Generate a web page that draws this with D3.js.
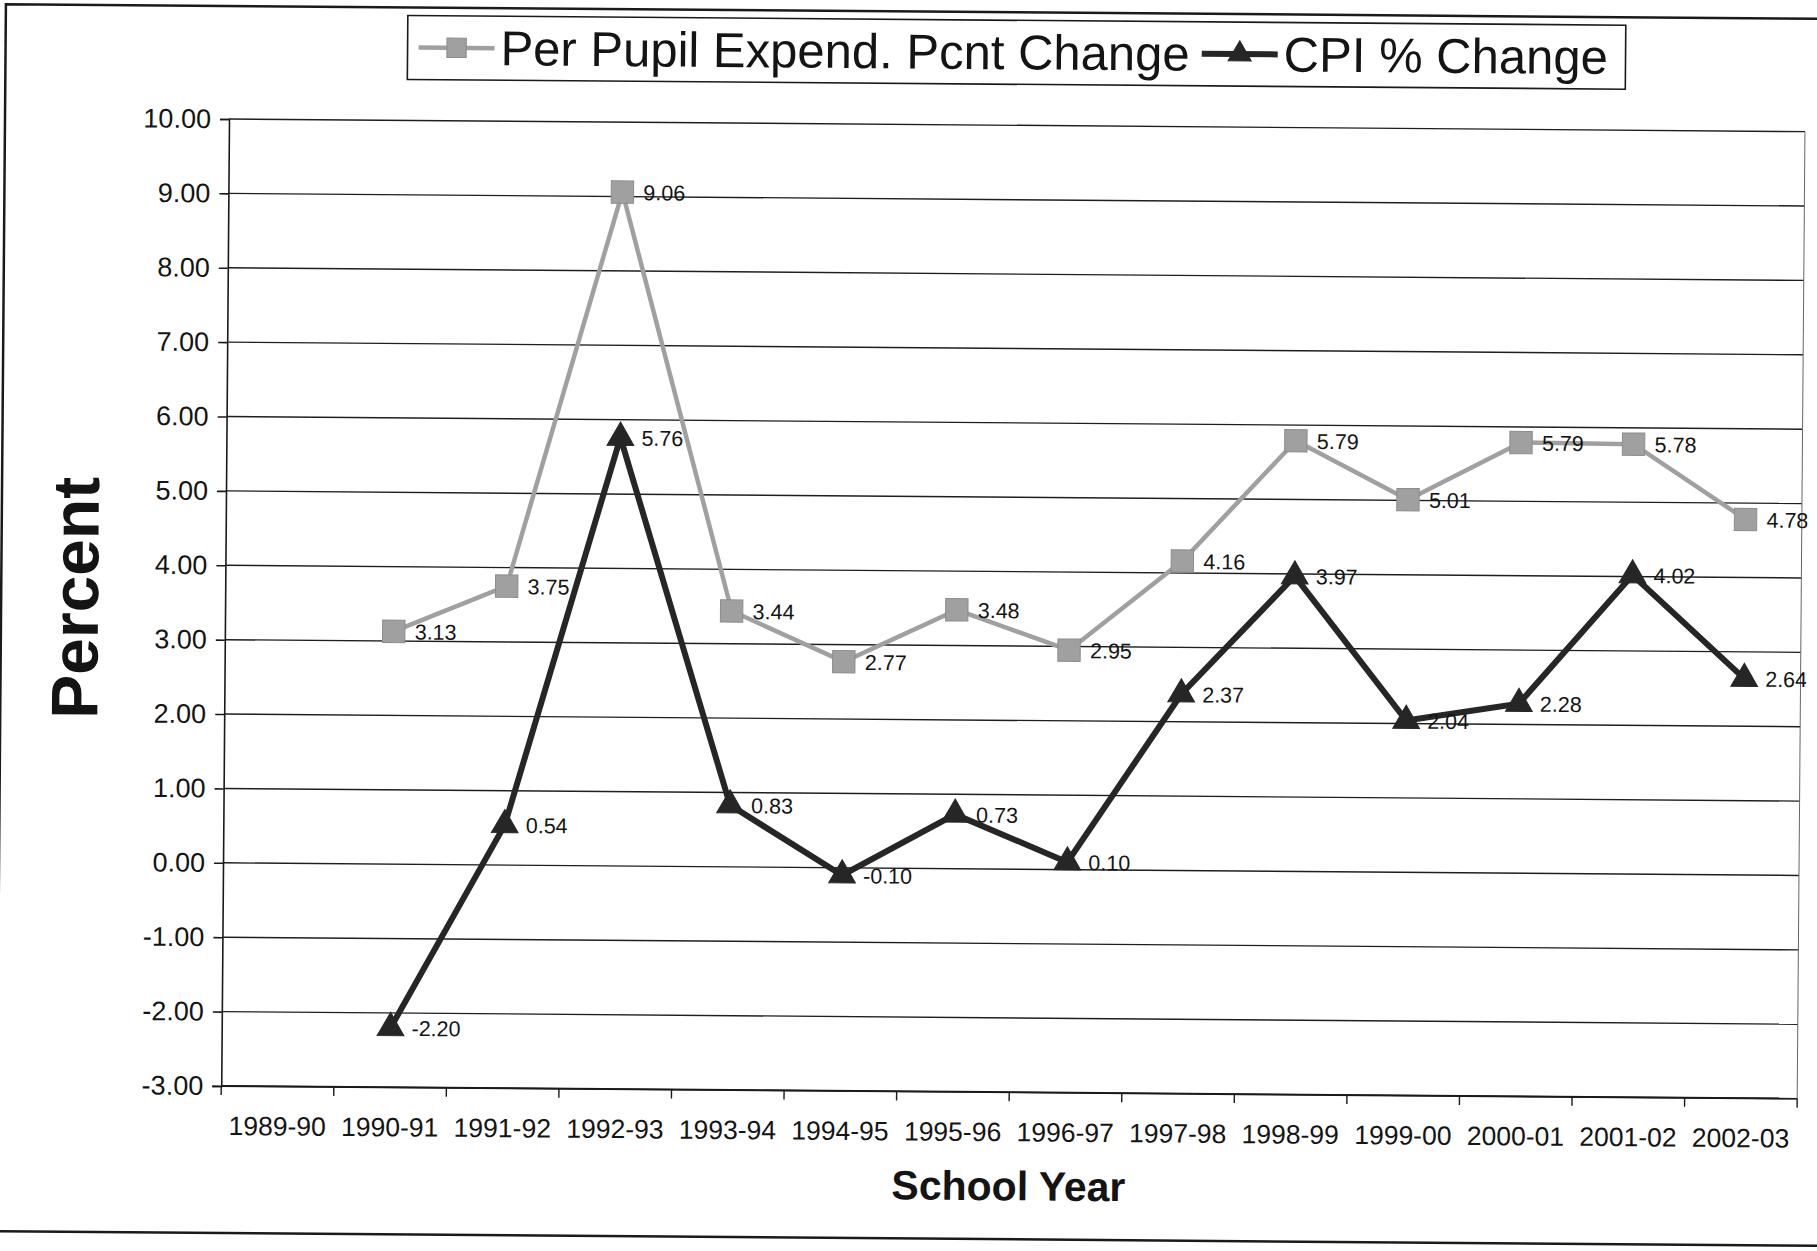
<!DOCTYPE html>
<html>
<head>
<meta charset="utf-8">
<script src="https://cdn.jsdelivr.net/npm/d3@7"></script>
<style>
  body { margin: 0; background: #fff; }
  svg text { font-family: "Liberation Sans", Arial, sans-serif; fill: #141414; }
</style>
</head>
<body>
<div id="chart-area"></div>
<script>
// Data
const years = ["1989-90", "1990-91", "1991-92", "1992-93", "1993-94", "1994-95", "1995-96",
    "1996-97", "1997-98", "1998-99", "1999-00", "2000-01", "2001-02", "2002-03"];
const perPupil = [null, 3.13, 3.75, 9.06, 3.44, 2.77, 3.48, 2.95, 4.16, 5.79, 5.01, 5.79, 5.78, 4.78];
const cpi = [null, -2.20, 0.54, 5.76, 0.83, -0.10, 0.73, 0.10, 2.37, 3.97, 2.04, 2.28, 4.02, 2.64];
const seriesNames = ["Per Pupil Expend. Pcnt Change", "CPI % Change"];
const yTicks = [-3, -2, -1, 0, 1, 2, 3, 4, 5, 6, 7, 8, 9, 10];

// Canvas and margins
const W = 1817, H = 1251;
const margin = { top: 119, right: 12, bottom: 165, left: 229 };
const width = W - margin.left - margin.right;
const height = H - margin.top - margin.bottom;
const tilt = 0.46; // the scan is slightly rotated

const svg = d3.select("#chart-area")
    .append("svg")
    .attr("width", W)
    .attr("height", H);

// Clip for data labels running off the right edge
svg.append("defs").append("clipPath")
    .attr("id", "edge")
    .append("rect")
    .attr("x", -margin.left - 50)
    .attr("y", -margin.top - 50)
    .attr("width", 1811 + 50)
    .attr("height", H + 100);

const page = svg.append("g")
    .attr("transform", `rotate(${tilt}, ${margin.left}, ${margin.top})`);

// Outer frame (top, left, bottom edges of the printed page)
page.append("path")
    .attr("d", `M${W + 20},6 L5,6 L5,1233 L${W + 20},1233`)
    .attr("fill", "none")
    .attr("stroke", "#1a1a1a")
    .attr("stroke-width", 2.5);

const g = page.append("g")
    .attr("transform", `translate(${margin.left}, ${margin.top})`);

// Scales
const x = d3.scaleBand().domain(years).range([0, width]);
const y = d3.scaleLinear().domain([-3, 10]).range([height, 0]);
const cx = d => x(d) + x.bandwidth() / 2;

// Grid lines
g.selectAll(".grid")
    .data(yTicks)
    .enter().append("line")
    .attr("class", "grid")
    .attr("x1", 0)
    .attr("x2", width)
    .attr("y1", d => y(d))
    .attr("y2", d => y(d))
    .attr("stroke", "#1e1e1e")
    .attr("stroke-width", 1.4);

// Right border of plot area
g.append("line")
    .attr("x1", width).attr("x2", width)
    .attr("y1", 0).attr("y2", height)
    .attr("stroke", "#666")
    .attr("stroke-width", 1);

// Y axis
const yAxis = g.append("g")
    .attr("class", "y axis")
    .call(d3.axisLeft(y)
        .tickValues(yTicks)
        .tickFormat(d => d.toFixed(2))
        .tickSize(9)
        .tickPadding(9));

yAxis.selectAll("path, line").attr("stroke", "#1a1a1a").attr("stroke-width", 1.6);
yAxis.selectAll("text").style("font-size", "27px").attr("fill", "#1a1a1a");

// X axis: baseline, ticks at band edges, labels at band centers
const xAxis = g.append("g")
    .attr("class", "x axis")
    .attr("transform", `translate(0, ${height})`);

xAxis.append("line")
    .attr("x1", 0).attr("x2", width)
    .attr("stroke", "#1a1a1a")
    .attr("stroke-width", 2);

xAxis.selectAll(".tick")
    .data(years.map(d => x(d)).concat([width]))
    .enter().append("line")
    .attr("class", "tick")
    .attr("x1", d => d).attr("x2", d => d)
    .attr("y1", 0).attr("y2", 9)
    .attr("stroke", "#1a1a1a")
    .attr("stroke-width", 1.4);

xAxis.selectAll(".label")
    .data(years)
    .enter().append("text")
    .attr("class", "label")
    .attr("x", d => cx(d))
    .attr("y", 49)
    .attr("text-anchor", "middle")
    .style("font-size", "26.5px")
    .text(d => d);

// Axis titles
g.append("text")
    .attr("transform", `translate(${102 - margin.left}, ${599 - margin.top}) rotate(-90)`)
    .attr("text-anchor", "middle")
    .style("font-size", "66px")
    .style("font-weight", "bold")
    .text("Percent");

g.append("text")
    .attr("x", width / 2)
    .attr("y", height + 108)
    .attr("text-anchor", "middle")
    .style("font-size", "41px")
    .style("font-weight", "bold")
    .text("School Year");

// Series
const series = [
    { name: seriesNames[0], values: perPupil, color: "#a0a0a0", lineWidth: 4.5,
      symbol: d3.symbolSquare, size: 500, markStroke: "#8c8c8c" },
    { name: seriesNames[1], values: cpi, color: "#262626", lineWidth: 6,
      symbol: d3.symbolTriangle, size: 310, markStroke: "#262626" }
];

const line = d3.line()
    .defined(d => d.v != null)
    .x(d => cx(d.year))
    .y(d => y(d.v));

const labels = g.append("g")
    .attr("clip-path", "url(#edge)");

series.forEach(s => {
    const pts = years.map((year, i) => ({ year: year, v: s.values[i] }));
    const valid = pts.filter(d => d.v != null);

    g.insert("path", "g.labels-anchor")
        .datum(pts)
        .attr("fill", "none")
        .attr("stroke", s.color)
        .attr("stroke-width", s.lineWidth)
        .attr("stroke-linejoin", "miter")
        .attr("d", line);

    g.selectAll(null)
        .data(valid)
        .enter().append("path")
        .attr("transform", d => `translate(${cx(d.year)}, ${y(d.v)})`)
        .attr("d", d3.symbol().type(s.symbol).size(s.size))
        .attr("fill", s.color)
        .attr("stroke", s.markStroke)
        .attr("stroke-width", 1);

    labels.selectAll(null)
        .data(valid)
        .enter().append("text")
        .attr("x", d => cx(d.year) + 21)
        .attr("y", d => y(d.v) + 8)
        .style("font-size", "21.5px")
        .text(d => d.v.toFixed(2));
});

labels.raise();

// Legend
const legend = page.append("g");

legend.append("rect")
    .attr("x", 407)
    .attr("y", 14)
    .attr("width", 1218)
    .attr("height", 64)
    .attr("fill", "#fff")
    .attr("stroke", "#1a1a1a")
    .attr("stroke-width", 1.6);

let lx = 418;
series.forEach(s => {
    const item = legend.append("g").attr("transform", `translate(${lx}, 46)`);
    item.append("line")
        .attr("x1", 0).attr("x2", 76)
        .attr("stroke", s.color)
        .attr("stroke-width", s.lineWidth);
    item.append("path")
        .attr("transform", "translate(38, 0)")
        .attr("d", d3.symbol().type(s.symbol).size(s.size * 0.75))
        .attr("fill", s.color)
        .attr("stroke", s.markStroke);
    const t = item.append("text")
        .attr("x", 82)
        .attr("y", 17)
        .style("font-size", "49px")
        .text(s.name);
    lx += 82 + t.node().getComputedTextLength() + 12;
});
</script>
</body>
</html>
